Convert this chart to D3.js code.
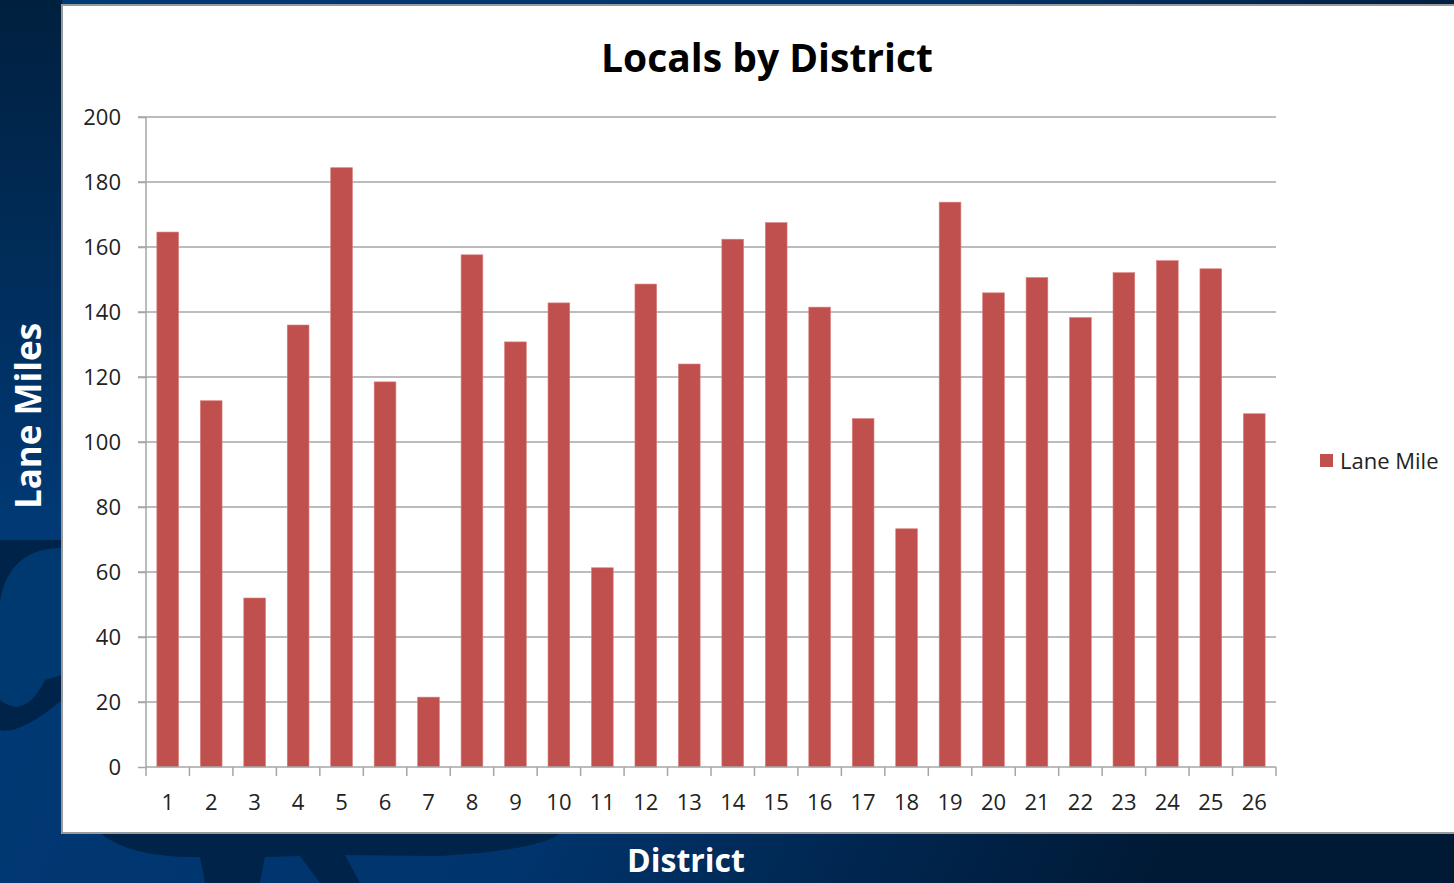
<!DOCTYPE html>
<html>
<head>
<meta charset="utf-8">
<script src="https://cdn.jsdelivr.net/npm/d3@7"></script>
<style>
  html, body { margin: 0; padding: 0; background: #002a5a; overflow: hidden; }
  svg { display: block; }
</style>
</head>
<body>
<svg id="chart"></svg>
<script>
// data
const districts = d3.range(1, 27).map(String);
const laneMiles = [164.6, 112.7, 52, 136, 184.4, 118.5, 21.5, 157.6, 130.8, 142.8,
                   61.3, 148.6, 124, 162.4, 167.5, 141.5, 107.2, 73.3, 173.8, 145.9,
                   150.6, 138.3, 152.1, 155.8, 153.3, 108.7];
const yTicks = [0, 20, 40, 60, 80, 100, 120, 140, 160, 180, 200];
const seriesName = "Lane Mile";

const W = 1454, H = 883;
const svg = d3.select("#chart").attr("width", W).attr("height", H);

// background slide
const defs = svg.append("defs");
const bg = defs.append("linearGradient").attr("id", "bg")
    .attr("x1", "0").attr("y1", "0").attr("x2", "1").attr("y2", "0.3");
bg.append("stop").attr("offset", "0").attr("stop-color", "#003b78");
bg.append("stop").attr("offset", "0.6").attr("stop-color", "#00346c");
bg.append("stop").attr("offset", "1").attr("stop-color", "#001a36");
svg.append("rect").attr("width", W).attr("height", H).attr("fill", "url(#bg)");
const bgTop = defs.append("linearGradient").attr("id", "bgTop")
    .attr("x1", "0").attr("y1", "0").attr("x2", "0").attr("y2", "1");
bgTop.append("stop").attr("offset", "0").attr("stop-color", "#00203f");
bgTop.append("stop").attr("offset", "1").attr("stop-color", "#003b78");
svg.append("rect").attr("width", 62).attr("height", 560).attr("fill", "url(#bgTop)");
// darker decorative shapes
svg.append("path").attr("fill", "#00234a")
    .attr("d", "M0,540 L62,540 L62,700 Q20,735 0,730 Z");
svg.append("path").attr("fill", "#00396f")
    .attr("d", "M0,600 Q10,548 62,548 L62,675 L45,680 Q25,720 0,700 Z");
svg.append("path").attr("fill", "#00234a")
    .attr("d", "M100,833 Q130,858 200,857 L205,883 L260,883 L265,857 L300,856 L320,883 L360,883 L345,855 L440,856 Q540,850 560,833 Z");

// white chart panel
svg.append("rect").attr("x", 62).attr("y", 5).attr("width", W - 62 + 5).attr("height", 828)
    .attr("fill", "#ffffff").attr("stroke", "#9a9a9a").attr("stroke-width", 2);

const margin = {top: 117, left: 146, right: W - 1276, bottom: H - 767};
const plotW = 1276 - 146, plotH = 767 - 117;
const g = svg.append("g").attr("transform", `translate(${margin.left},${margin.top})`);

const x = d3.scaleBand().domain(districts).range([0, plotW]).paddingInner(0.5).paddingOuter(0.25);
const y = d3.scaleLinear().domain([0, 200]).range([plotH, 0]);

// gridlines
g.append("g").selectAll("line").data(yTicks.filter(d => d > 0)).join("line")
    .attr("x1", -8).attr("x2", plotW)
    .attr("y1", d => y(d)).attr("y2", d => y(d))
    .attr("stroke", "#a6a6a6").attr("stroke-width", 1.5);

// bars
g.append("g").selectAll("rect").data(laneMiles).join("rect")
    .attr("x", (d, i) => x(districts[i]))
    .attr("y", d => y(d))
    .attr("width", x.bandwidth())
    .attr("height", d => plotH - y(d))
    .attr("fill", "#c0504d")
    .attr("stroke", "#d9807e").attr("stroke-width", 0.6);

// y axis
const yAxis = g.append("g")
    .call(d3.axisLeft(y).tickValues(yTicks).tickSize(8).tickPadding(17));
yAxis.select(".domain").attr("stroke", "#a6a6a6").attr("stroke-width", 1.5).attr("d", `M0,0V${plotH}`);
yAxis.selectAll(".tick line").attr("stroke", "#a6a6a6").attr("stroke-width", 1.5);
yAxis.selectAll("text").attr("font-family", "Open Sans, sans-serif").attr("font-size", 22).attr("fill", "#222");

// x axis: ticks on category boundaries
const xAxis = g.append("g").attr("transform", `translate(0,${plotH})`);
xAxis.append("line").attr("x1", 0).attr("x2", plotW).attr("stroke", "#a6a6a6").attr("stroke-width", 1.5);
xAxis.selectAll("line.tk").data(d3.range(0, districts.length + 1)).join("line").attr("class", "tk")
    .attr("x1", i => i * plotW / districts.length).attr("x2", i => i * plotW / districts.length)
    .attr("y1", 0).attr("y2", 9)
    .attr("stroke", "#a6a6a6").attr("stroke-width", 1.5);
xAxis.selectAll("text").data(districts).join("text")
    .attr("x", d => x(d) + x.bandwidth() / 2)
    .attr("y", 43)
    .attr("text-anchor", "middle")
    .attr("font-family", "Open Sans, sans-serif").attr("font-size", 22).attr("fill", "#222")
    .text(d => d);

// title
svg.append("text").attr("x", 767).attr("y", 72).attr("text-anchor", "middle")
    .attr("font-family", "Open Sans, sans-serif").attr("font-weight", "bold").attr("font-size", 39)
    .attr("fill", "#000").text("Locals by District");

// legend
svg.append("rect").attr("x", 1320).attr("y", 454).attr("width", 13).attr("height", 13).attr("fill", "#c0504d");
svg.append("text").attr("x", 1340).attr("y", 469)
    .attr("font-family", "Open Sans, sans-serif").attr("font-size", 22).attr("fill", "#222")
    .text(seriesName);

// axis titles on the slide
svg.append("text").attr("transform", "translate(41,416) rotate(-90)").attr("text-anchor", "middle")
    .attr("font-family", "Open Sans, sans-serif").attr("font-weight", "bold").attr("font-size", 35)
    .attr("fill", "#ffffff").text("Lane Miles");
svg.append("text").attr("x", 686).attr("y", 872).attr("text-anchor", "middle")
    .attr("font-family", "Open Sans, sans-serif").attr("font-weight", "bold").attr("font-size", 32)
    .attr("fill", "#ffffff").text("District");
</script>
</body>
</html>
